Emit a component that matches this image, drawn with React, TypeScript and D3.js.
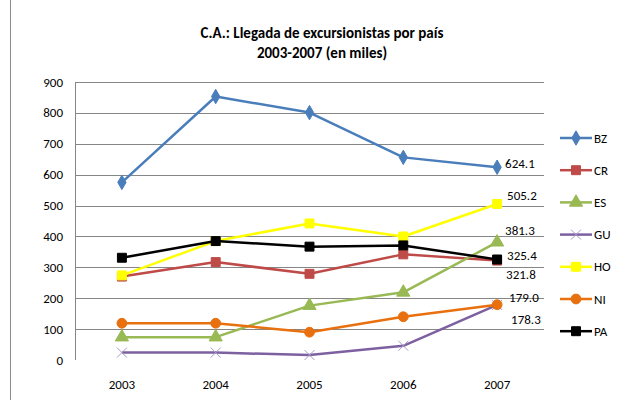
import React, { FC } from "react"
import { scaleLinear, scalePoint, line, symbol, symbolDiamond, symbolSquare, symbolTriangle, symbolCircle } from "d3"

const years = ["2003", "2004", "2005", "2006", "2007"]
const yTicks = [0, 100, 200, 300, 400, 500, 600, 700, 800, 900]

const seriesNames = ["BZ", "CR", "ES", "GU", "HO", "NI", "PA"]
const bz = [575, 853, 801, 656, 624.1]
const cr = [270, 317, 279, 342, 321.8]
const es = [74, 74, 176, 219, 381.3]
const gu = [24, 24, 16, 46, 178.3]
const ho = [274, 385, 442, 400, 505.2]
const ni = [119, 119, 90, 140, 179.0]
const pa = [331, 385, 367, 371, 325.4]
const values = [bz, cr, es, gu, ho, ni, pa]

const colors = ["#4A7EBB", "#BE4B48", "#98B954", "#7D60A0", "#FFFF00", "#E8700F", "#000000"]
const markers = ["diamond", "square", "triangle", "cross", "square", "circle", "square"]
// label offsets for last-point value labels [dx, dy]
const labelOffsets = [[8, -4], [9, 14], [8, -12], [14, 15], [10, -8], [12, -7], [10, -4]]

const App: FC = () => {
  const width = 621
  const height = 400
  const margin = { top: 82, right: 77, bottom: 40, left: 75 }
  const plotRight = width - margin.right

  const xScale = scalePoint<string>().domain(years).range([margin.left, plotRight]).padding(0.5)
  const yScale = scaleLinear().domain([0, 900]).range([360, margin.top])

  const lineGen = line<number>()
    .x((_, i) => xScale(years[i]) ?? 0)
    .y((d) => yScale(d))

  const marker = (kind: string, color: string, key: string | number, x: number, y: number) => {
    if (kind === "cross") {
      const s = 5
      return (
        <g key={key} transform={`translate(${x},${y})`} stroke="#A99BC9" strokeWidth={1}>
          <line x1={-s} y1={-s} x2={s} y2={s} />
          <line x1={-s} y1={s} x2={s} y2={-s} />
        </g>
      )
    }
    const type =
      kind === "diamond" ? symbolDiamond : kind === "triangle" ? symbolTriangle : kind === "circle" ? symbolCircle : symbolSquare
    const size = kind === "diamond" ? 60 : kind === "triangle" ? 75 : kind === "circle" ? 75 : 80
    return (
      <path
        key={key}
        d={symbol(type, size)() ?? ""}
        transform={`translate(${x},${y})`}
        fill={color}
        stroke={color}
      />
    )
  }

  const font = "Carlito, Lato, 'Open Sans', sans-serif"

  return (
    <svg width={width} height={height} style={{ position: "absolute", left: 0, top: 0, background: "#fff" }} fontFamily={font}>
      <line x1={10.5} x2={10.5} y1={0} y2={height} stroke="#8c8c8c" strokeWidth={1} />

      <text x={322} y={38} textAnchor="middle" fontSize={15} fontWeight="bold" fill="#000">
        C.A.: Llegada de excursionistas por país
      </text>
      <text x={322} y={58} textAnchor="middle" fontSize={15} fontWeight="bold" fill="#000">
        2003-2007 (en miles)
      </text>

      {yTicks.map((t) => (
        <g key={t}>
          {t > 0 && (
            <line x1={margin.left} x2={plotRight} y1={Math.round(yScale(t)) + 0.5} y2={Math.round(yScale(t)) + 0.5} stroke="#868686" />
          )}
          <text x={63} y={yScale(t)} dy="0.35em" textAnchor="end" fontSize={13} fill="#000">
            {t}
          </text>
        </g>
      ))}
      <line x1={margin.left + 0.5} x2={margin.left + 0.5} y1={margin.top} y2={360} stroke="#868686" />

      {years.map((y) => (
        <text key={y} x={xScale(y)} y={384} dy="0.35em" textAnchor="middle" fontSize={13} fill="#000">
          {y}
        </text>
      ))}

      {values.map((vals, si) => (
        <g key={seriesNames[si]}>
          <path d={lineGen(vals) ?? ""} fill="none" stroke={colors[si]} strokeWidth={2.5} strokeLinejoin="round" />
          {vals.map((v, i) => marker(markers[si], colors[si], i, xScale(years[i]) ?? 0, yScale(v)))}
        </g>
      ))}

      {values.map((vals, si) => {
        const last = vals[vals.length - 1]
        const [dx, dy] = labelOffsets[si]
        return (
          <text
            key={`lbl-${si}`}
            x={(xScale(years[years.length - 1]) ?? 0) + dx}
            y={yScale(last) + dy}
            dy="0.35em"
            fontSize={13}
            fill="#000"
          >
            {last.toFixed(1)}
          </text>
        )
      })}

      {seriesNames.map((name, si) => {
        const ly = 138 + si * 32.2
        return (
          <g key={`leg-${name}`}>
            <line x1={560} x2={592} y1={ly} y2={ly} stroke={colors[si]} strokeWidth={2.5} />
            {marker(markers[si], colors[si], "m", 576, ly)}
            <text x={594} y={ly} dy="0.35em" fontSize={13} fill="#000">
              {name}
            </text>
          </g>
        )
      })}
    </svg>
  )
}

export default App
